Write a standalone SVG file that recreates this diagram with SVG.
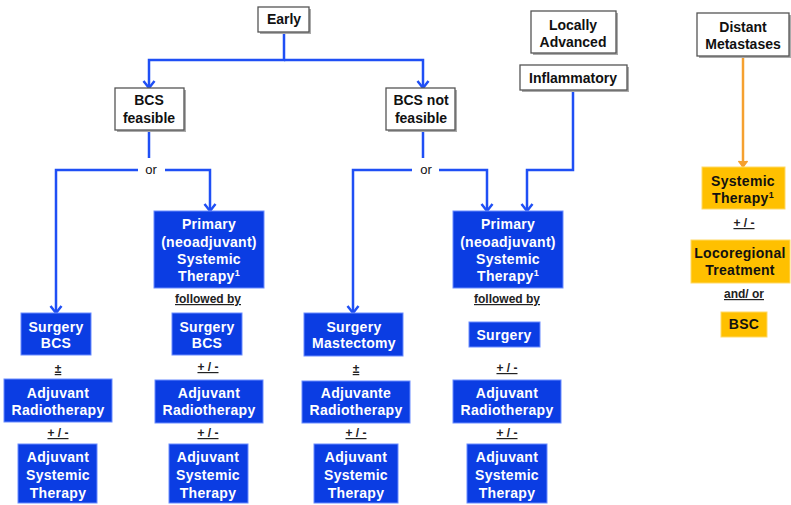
<svg xmlns="http://www.w3.org/2000/svg" width="791" height="505" viewBox="0 0 791 505">
<defs>
<marker id="ab" markerUnits="userSpaceOnUse" markerWidth="14" markerHeight="14" refX="9" refY="7" orient="auto">
<path d="M2,1.5 L9,7 L2,12.5" fill="none" stroke="#1f4ff5" stroke-width="2.5"/>
</marker>
<marker id="ao" markerUnits="userSpaceOnUse" markerWidth="14" markerHeight="14" refX="9" refY="7" orient="auto">
<path d="M3,2.5 L9,7 L3,11.5" fill="#f5a030" stroke="#f5a030" stroke-width="1.5"/>
</marker>
</defs>
<style>
text{font-family:"Liberation Sans",Arial,sans-serif;font-weight:bold;text-anchor:middle}
.w rect.b{fill:#fff;stroke:#555;stroke-width:1.3}
.w rect.s{fill:#aaa}
.w text{font-size:14px;fill:#111}
.bl rect{fill:#0b3de3;stroke:#6a8cff;stroke-width:1}
.bl text{font-size:14px;fill:#fff;letter-spacing:0.3px}
.or rect{fill:#ffc000;stroke:#ffd966;stroke-width:1}
.or text{font-size:14px;fill:#111;letter-spacing:0.3px}
.lbl{font-size:12px;fill:#222;text-decoration:underline}
.conn path{fill:none;stroke:#1f4ff5;stroke-width:2.5}
.sup{font-size:9px}
</style>

<g class="conn" id="connectors">
<path d="M284,32 V60 H149 V88" marker-end="url(#ab)"/>
<path d="M284,60 H423 V88" marker-end="url(#ab)"/>
<path d="M149,130 V158"/>
<path d="M138,170 H56 V313" marker-end="url(#ab)"/>
<path d="M165,170 H210 V211" marker-end="url(#ab)"/>
<path d="M423,130 V158"/>
<path d="M412,170 H353 V313" marker-end="url(#ab)"/>
<path d="M439,170 H487 V211" marker-end="url(#ab)"/>
<path d="M573,90 V170 H527 V211" marker-end="url(#ab)"/>
<path d="M743,56 V167" style="stroke:#f5a030;stroke-width:2.5" marker-end="url(#ao)"/>
<text x="151" y="174" style="font-size:13px;font-weight:normal;fill:#111">or</text>
<text x="426" y="174" style="font-size:13px;font-weight:normal;fill:#111">or</text>
</g>

<g id="early" class="w"><rect class="s" x="260" y="9" width="51" height="25"/><rect class="b" x="258" y="7" width="51" height="25"/><text x="284" y="24">Early</text></g>
<g id="bcs-feasible" class="w"><rect class="s" x="117" y="90" width="69" height="42"/><rect class="b" x="115" y="88" width="69" height="42"/><text x="149" y="105">BCS</text><text x="149" y="123">feasible</text></g>
<g id="bcs-not-feasible" class="w"><rect class="s" x="388" y="90" width="69" height="42"/><rect class="b" x="386" y="88" width="69" height="42"/><text x="421" y="105">BCS not</text><text x="421" y="123">feasible</text></g>
<g id="locally-advanced" class="w"><rect class="s" x="533" y="13" width="85" height="42"/><rect class="b" x="531" y="11" width="85" height="42"/><text x="573" y="30">Locally</text><text x="573" y="47">Advanced</text></g>
<g id="inflammatory" class="w"><rect class="s" x="522" y="67" width="107" height="25"/><rect class="b" x="520" y="65" width="107" height="25"/><text x="573" y="83">Inflammatory</text></g>
<g id="distant-metastases" class="w"><rect class="s" x="699" y="15" width="92" height="43"/><rect class="b" x="697" y="13" width="92" height="43"/><text x="743" y="32">Distant</text><text x="743" y="49">Metastases</text></g>

<g id="primary-1" class="bl"><rect x="154" y="211" width="110" height="77"/><text x="209" y="229">Primary</text><text x="209" y="247">(neoadjuvant)</text><text x="209" y="264">Systemic</text><text x="209" y="281">Therapy<tspan class="sup" dy="-5">1</tspan></text></g>
<g id="primary-2" class="bl"><rect x="453" y="211" width="110" height="77"/><text x="508" y="229">Primary</text><text x="508" y="247">(neoadjuvant)</text><text x="508" y="264">Systemic</text><text x="508" y="281">Therapy<tspan class="sup" dy="-5">1</tspan></text></g>
<text class="lbl" x="208" y="303">followed by</text>
<text class="lbl" x="507" y="303">followed by</text>

<g id="surgery-bcs-1" class="bl"><rect x="21" y="313" width="70" height="42"/><text x="56" y="332">Surgery</text><text x="56" y="348">BCS</text></g>
<text class="lbl" x="58" y="373">±</text>
<g id="radio-1" class="bl"><rect x="4" y="379" width="108" height="43"/><text x="58" y="398">Adjuvant</text><text x="58" y="415">Radiotherapy</text></g>
<text class="lbl" x="58" y="437">+ / -</text>
<g id="systemic-1" class="bl"><rect x="18" y="444" width="79" height="59"/><text x="58" y="462">Adjuvant</text><text x="58" y="480">Systemic</text><text x="58" y="498">Therapy</text></g>

<g id="surgery-bcs-2" class="bl"><rect x="172" y="313" width="70" height="42"/><text x="207" y="332">Surgery</text><text x="207" y="348">BCS</text></g>
<text class="lbl" x="208" y="371">+ / -</text>
<g id="radio-2" class="bl"><rect x="155" y="380" width="108" height="43"/><text x="209" y="398">Adjuvant</text><text x="209" y="415">Radiotherapy</text></g>
<text class="lbl" x="208" y="437">+ / -</text>
<g id="systemic-2" class="bl"><rect x="169" y="444" width="79" height="59"/><text x="208" y="462">Adjuvant</text><text x="208" y="480">Systemic</text><text x="208" y="498">Therapy</text></g>

<g id="surgery-mastectomy" class="bl"><rect x="304" y="313" width="99" height="43"/><text x="354" y="332">Surgery</text><text x="354" y="348">Mastectomy</text></g>
<text class="lbl" x="356" y="373">±</text>
<g id="radio-3" class="bl"><rect x="302" y="381" width="108" height="42"/><text x="356" y="398">Adjuvante</text><text x="356" y="415">Radiotherapy</text></g>
<text class="lbl" x="356" y="437">+ / -</text>
<g id="systemic-3" class="bl"><rect x="314" y="444" width="84" height="59"/><text x="356" y="462">Adjuvant</text><text x="356" y="480">Systemic</text><text x="356" y="498">Therapy</text></g>

<g id="surgery-4" class="bl"><rect x="469" y="322" width="71" height="25"/><text x="504" y="340">Surgery</text></g>
<text class="lbl" x="507" y="372">+ / -</text>
<g id="radio-4" class="bl"><rect x="453" y="380" width="108" height="43"/><text x="507" y="398">Adjuvant</text><text x="507" y="415">Radiotherapy</text></g>
<text class="lbl" x="507" y="437">+ / -</text>
<g id="systemic-4" class="bl"><rect x="467" y="444" width="80" height="59"/><text x="507" y="462">Adjuvant</text><text x="507" y="480">Systemic</text><text x="507" y="498">Therapy</text></g>

<g id="systemic-therapy" class="or"><rect x="702" y="167" width="83" height="42"/><text x="743" y="186">Systemic</text><text x="743" y="203">Therapy<tspan class="sup" dy="-5">1</tspan></text></g>
<text class="lbl" x="744" y="227">+ / -</text>
<g id="locoregional" class="or"><rect x="691" y="240" width="99" height="43"/><text x="740" y="258">Locoregional</text><text x="740" y="275">Treatment</text></g>
<text class="lbl" x="744" y="298">and/ or</text>
<g id="bsc" class="or"><rect x="721" y="312" width="46" height="25"/><text x="744" y="329">BSC</text></g>
</svg>
